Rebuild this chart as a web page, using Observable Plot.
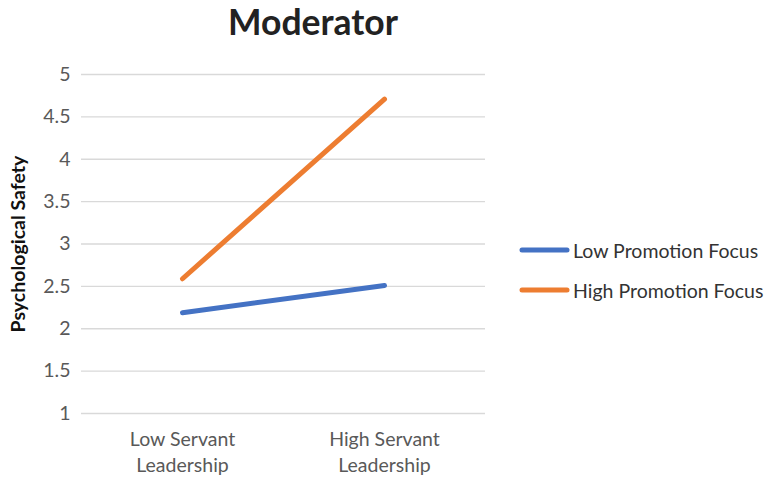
<!DOCTYPE html>
<html>
<head>
<meta charset="utf-8">
<script src="https://cdn.jsdelivr.net/npm/d3@7"></script>
<script src="https://cdn.jsdelivr.net/npm/@observablehq/plot@0.6"></script>
<style>
  html, body { margin: 0; padding: 0; background: #fff; }
  #wrap { position: relative; width: 766px; height: 477px; font-family: Lato, "Open Sans", sans-serif; }
  #title { height: 50px; width: 626px; text-align: center; font-size: 35.5px; font-weight: bold; color: #222; line-height: 44px; }
  #legend { position: absolute; left: 518px; top: 230px; font-size: 19.5px; color: #333; }
  .item { display: flex; align-items: center; height: 40px; }
  .item svg { margin-right: 3px; }
</style>
</head>
<body>
<div id="wrap">
  <div id="title">Moderator</div>
  <div id="chart"></div>
  <div id="legend"></div>
</div>
<script>
const categories = ["Low Servant Leadership", "High Servant Leadership"];
const tickLabels = ["Low Servant\nLeadership", "High Servant\nLeadership"];
const seriesNames = ["Low Promotion Focus", "High Promotion Focus"];
const seriesColors = ["#4472C4", "#ED7D31"];
const lowPromotion = [2.19, 2.51];
const highPromotion = [2.59, 4.71];
const yTicks = [1, 1.5, 2, 2.5, 3, 3.5, 4, 4.5, 5];
const yLabel = "Psychological Safety";

const seriesValues = [lowPromotion, highPromotion];
const data = seriesNames.flatMap((s, i) => categories.map((c, j) => ({series: s, cat: c, value: seriesValues[i][j]})));

const chart = Plot.plot({
  width: 500,
  height: 427,
  marginLeft: 81,
  marginRight: 15,
  marginTop: 24,
  marginBottom: 64,
  style: {fontFamily: "Lato, 'Open Sans', sans-serif", background: "#fff"},
  x: {type: "point", domain: categories, padding: 0.5},
  y: {domain: [1, 5]},
  color: {domain: seriesNames, range: seriesColors},
  marks: [
    Plot.gridY(yTicks, {stroke: "#d9d9d9", strokeOpacity: 1, strokeWidth: 1.3}),
    Plot.axisY(yTicks, {tickSize: 0, tickPadding: 11, fontSize: 19.5, color: "#595959", label: null, tickFormat: d => String(d)}),
    Plot.axisX({tickSize: 0, tickPadding: 14, fontSize: 19.5, color: "#595959", label: null, lineHeight: 1.33, tickFormat: (d) => tickLabels[categories.indexOf(d)]}),
    Plot.text([yLabel], {frameAnchor: "left", textAnchor: "middle", rotate: -90, dx: -63, fontSize: 19.5, fontWeight: "bold", fill: "#111"}),
    Plot.line(data, {x: "cat", y: "value", z: "series", stroke: "series", strokeWidth: 5, strokeLinecap: "round"})
  ]
});
document.getElementById("chart").appendChild(chart);

const legend = document.getElementById("legend");
seriesNames.forEach((s, i) => {
  const item = document.createElement("div");
  item.className = "item";
  item.innerHTML = `<svg width="52" height="8"><line x1="4" y1="4" x2="49" y2="4" stroke="${seriesColors[i]}" stroke-width="5" stroke-linecap="round"/></svg><span></span>`;
  item.querySelector("span").textContent = s;
  legend.appendChild(item);
});
</script>
</body>
</html>
